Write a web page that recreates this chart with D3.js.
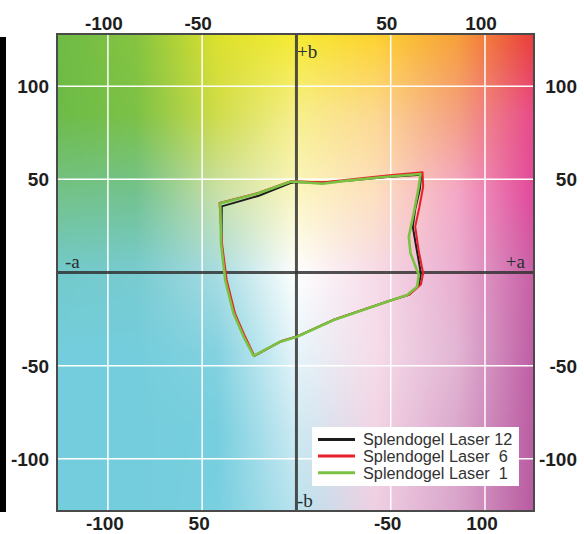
<!DOCTYPE html>
<html>
<head>
<meta charset="utf-8">
<script src="https://cdn.jsdelivr.net/npm/d3@7"></script>
<style>
  body { margin: 0; background: #fff; }
  svg { display: block; }
</style>
</head>
<body>
<svg id="chart" width="584" height="534"></svg>
<script>
// tick values and the labels printed next to them (bottom row is printed as in the original)
const tickValues = [-100, -50, 50, 100];
const topTickLabels = ['-100', '-50', '50', '100'];
const bottomTickLabels = ['-100', '50', '-50', '100'];
const sideTickValues = [100, 50, -50, -100];
const sideTickLabels = ['100', '50', '-50', '-100'];

const seriesNames = ['Splendogel Laser 12', 'Splendogel Laser  6', 'Splendogel Laser  1'];
const seriesColors = ['#1c1c1c', '#e8202a', '#7cc242'];
const seriesWidths = [2, 2, 2.6];

// gamut outlines, [a*, b*]
const laser12 = [
  [-39.6, 35.5], [-20, 41.2], [-3.2, 48], [0.3, 48.5], [13.6, 48.3], [27, 49.3], [48, 51.3],
  [66.2, 52.5], [65.5, 45], [63, 34], [61.7, 24.6], [63.2, 15.7], [66, -0.4], [65, -6.7],
  [59.5, -12], [48.5, -15.5], [20, -25.3], [0.5, -34.3], [-8.3, -37], [-22.5, -44.8],
  [-27.8, -34.5], [-33.2, -21.9], [-37.6, -4], [-39.8, 15.7],
];
const laser6 = [
  [-40.8, 37.3], [-20, 42.8], [-3, 49], [0.5, 49], [13.6, 48.3], [27, 49.8], [48, 52],
  [66.9, 53.8], [67.2, 46], [65.2, 35], [63, 24.6], [64.8, 12], [67.2, -0.4], [66, -6.5],
  [60, -11.8], [49, -15.3], [20.5, -25], [1, -34], [-8, -36.8], [-22.3, -44.8],
  [-27.2, -34.5], [-32.6, -21.9], [-37, -4], [-39.5, 15.7],
];
const laser1 = [
  [-40.4, 37.1], [-20.1, 42.5], [-3.2, 48.7], [0.3, 48.7], [13.6, 47.6], [26.9, 49.3], [48.1, 51.4],
  [65.8, 52.9], [64.9, 46], [62.2, 31.8], [59.6, 19.2], [60.5, 10.3], [64.9, -1.3], [64, -7.6],
  [58.7, -12.1], [48.1, -15.7], [19.8, -25.5], [0.3, -34.5], [-8.6, -37.1], [-22.7, -44.8],
  [-28, -34.5], [-33.4, -21.9], [-37.8, -4], [-40, 15.7],
];
const series = [laser12, laser6, laser1];

// background colour field, sampled on a coarse a*/b* grid (rows go top to bottom)
const bgA = [-127, -85, -42, 0, 42, 85, 126];
const bgB = [128, 85, 42, 0, -42, -85, -128];
const bgColors = [
  ['#6dbb45', '#86c440', '#dce12c', '#f6ea30', '#fdd22e', '#f7a038', '#e83c3a'],
  ['#6cbb48', '#7cc146', '#cfdc4a', '#f7ef8a', '#fcd890', '#f4a080', '#e84a8a'],
  ['#74c28a', '#72c290', '#c8e0a8', '#fbf6c0', '#fde0c0', '#f4a8c8', '#e0489a'],
  ['#72cacb', '#78cbd0', '#a8dce2', '#ffffff', '#f6dbe8', '#eaaed0', '#c85ea5'],
  ['#74cddc', '#74cddc', '#84d2e0', '#e6f5fa', '#f6dce9', '#e2b6d4', '#bf5ea4'],
  ['#74cddc', '#74cddc', '#76cede', '#cdeaf3', '#f2d4e4', '#dba8cc', '#bb5ca2'],
  ['#74cddc', '#74cddc', '#78cfdf', '#b9e3ee', '#efcfe2', '#d9a4ca', '#b85aa0'],
];

const x = d3.scaleLinear().domain([-127, 126]).range([57, 534]);
const y = d3.scaleLinear().domain([-128, 128]).range([511, 34]);

const svg = d3.select('#chart');

// black bar at the left edge of the page
svg.append('rect')
  .attr('x', 0).attr('y', 37)
  .attr('width', 6).attr('height', 475)
  .attr('fill', '#000');

// paint the colour field into a canvas, then drop it in as an image
const paintBackground = () => {
  const x0 = x.range()[0];
  const y0 = y.range()[1];
  const w = Math.round(x.range()[1] - x0);
  const h = Math.round(y.range()[0] - y0);
  const canvas = document.createElement('canvas');
  canvas.width = w;
  canvas.height = h;
  const ctx = canvas.getContext('2d');
  const img = ctx.createImageData(w, h);
  const rgb = bgColors.map(row => row.map(c => d3.rgb(c)));
  const colIndex = d3.scaleLinear().domain(bgA).range(d3.range(bgA.length)).clamp(true);
  const rowIndex = d3.scaleLinear().domain(bgB).range(d3.range(bgB.length)).clamp(true);
  for (let py = 0; py < h; py++) {
    const ri = rowIndex(y.invert(y0 + py + 0.5));
    const r0 = Math.min(Math.floor(ri), bgB.length - 2);
    const tr = ri - r0;
    for (let px = 0; px < w; px++) {
      const ci = colIndex(x.invert(x0 + px + 0.5));
      const c0 = Math.min(Math.floor(ci), bgA.length - 2);
      const tc = ci - c0;
      const k = (py * w + px) * 4;
      ['r', 'g', 'b'].forEach((ch, j) => {
        const top = rgb[r0][c0][ch] * (1 - tc) + rgb[r0][c0 + 1][ch] * tc;
        const bot = rgb[r0 + 1][c0][ch] * (1 - tc) + rgb[r0 + 1][c0 + 1][ch] * tc;
        img.data[k + j] = top * (1 - tr) + bot * tr;
      });
      img.data[k + 3] = 255;
    }
  }
  ctx.putImageData(img, 0, 0);
  svg.append('image')
    .attr('x', x0).attr('y', y0)
    .attr('width', w).attr('height', h)
    .attr('href', canvas.toDataURL());
};
paintBackground();

// white grid
svg.append('g')
  .selectAll('line')
  .data(tickValues)
  .join('line')
  .attr('x1', d => x(d)).attr('x2', d => x(d))
  .attr('y1', y.range()[1]).attr('y2', y.range()[0])
  .attr('stroke', '#fff').attr('stroke-width', 1.5);

svg.append('g')
  .selectAll('line')
  .data(sideTickValues)
  .join('line')
  .attr('x1', x.range()[0]).attr('x2', x.range()[1])
  .attr('y1', d => y(d)).attr('y2', d => y(d))
  .attr('stroke', '#fff').attr('stroke-width', 1.5);

// a* and b* axes through the origin
svg.append('line')
  .attr('x1', x(0)).attr('x2', x(0))
  .attr('y1', y.range()[1]).attr('y2', y.range()[0])
  .attr('stroke', '#333').attr('stroke-opacity', 0.85).attr('stroke-width', 3);
svg.append('line')
  .attr('x1', x.range()[0]).attr('x2', x.range()[1])
  .attr('y1', y(0)).attr('y2', y(0))
  .attr('stroke', '#333').attr('stroke-opacity', 0.85).attr('stroke-width', 3);

// frame
svg.append('rect')
  .attr('x', x.range()[0]).attr('y', y.range()[1])
  .attr('width', x.range()[1] - x.range()[0])
  .attr('height', y.range()[0] - y.range()[1])
  .attr('fill', 'none')
  .attr('stroke', '#4a4a4a').attr('stroke-width', 2);

// axis letters
const axisLetters = svg.append('g')
  .attr('font-family', '"Liberation Serif", "DejaVu Serif", serif')
  .attr('font-size', 19)
  .attr('fill', '#263030');
axisLetters.append('text').attr('x', x(0) + 0.5).attr('y', y.range()[1] + 24).text('+b');
axisLetters.append('text').attr('x', x(0) + 0.5).attr('y', y.range()[0] - 4).text('-b');
axisLetters.append('text').attr('x', x.range()[0] + 8).attr('y', y(0) - 5).text('-a');
axisLetters.append('text').attr('x', x.range()[1] - 9).attr('y', y(0) - 5)
  .attr('text-anchor', 'end').text('+a');

// gamut outlines
const line = d3.line()
  .x(d => x(d[0]))
  .y(d => y(d[1]))
  .curve(d3.curveLinearClosed);

svg.append('g')
  .selectAll('path')
  .data(series)
  .join('path')
  .attr('d', line)
  .attr('fill', 'none')
  .attr('stroke', (d, i) => seriesColors[i])
  .attr('stroke-width', (d, i) => seriesWidths[i])
  .attr('stroke-linejoin', 'round');

// tick labels on all four sides
const ticks = svg.append('g')
  .attr('font-family', '"Liberation Sans", Arial, sans-serif')
  .attr('font-weight', 'bold')
  .attr('font-size', 19)
  .attr('fill', '#1e1e1e');

ticks.selectAll('text.top')
  .data(tickValues)
  .join('text')
  .attr('class', 'top')
  .attr('x', d => x(d) - 4)
  .attr('y', y.range()[1] - 4)
  .attr('text-anchor', 'middle')
  .text((d, i) => topTickLabels[i]);

ticks.selectAll('text.bottom')
  .data(tickValues)
  .join('text')
  .attr('class', 'bottom')
  .attr('x', d => x(d) - 3)
  .attr('y', y.range()[0] + 19)
  .attr('text-anchor', 'middle')
  .text((d, i) => bottomTickLabels[i]);

ticks.selectAll('text.left')
  .data(sideTickValues)
  .join('text')
  .attr('class', 'left')
  .attr('x', 49)
  .attr('y', d => y(d) + 7)
  .attr('text-anchor', 'end')
  .text((d, i) => sideTickLabels[i]);

ticks.selectAll('text.right')
  .data(sideTickValues)
  .join('text')
  .attr('class', 'right')
  .attr('x', 577)
  .attr('y', d => y(d) + 7)
  .attr('text-anchor', 'end')
  .text((d, i) => sideTickLabels[i]);

// legend
const legend = svg.append('g').attr('transform', 'translate(312, 427)');
legend.append('rect')
  .attr('width', 207).attr('height', 59)
  .attr('fill', '#fff');
const rows = legend.selectAll('g')
  .data(seriesNames)
  .join('g')
  .attr('transform', (d, i) => `translate(0, ${12.5 + i * 16.6})`);
rows.append('line')
  .attr('x1', 6).attr('x2', 43)
  .attr('stroke', (d, i) => seriesColors[i])
  .attr('stroke-width', 3);
rows.append('text')
  .attr('x', 51)
  .attr('dy', '0.36em')
  .attr('font-family', '"Liberation Sans", Arial, sans-serif')
  .attr('font-size', 16.3)
  .attr('fill', '#333')
  .style('white-space', 'pre')
  .text(d => d);
</script>
</body>
</html>
